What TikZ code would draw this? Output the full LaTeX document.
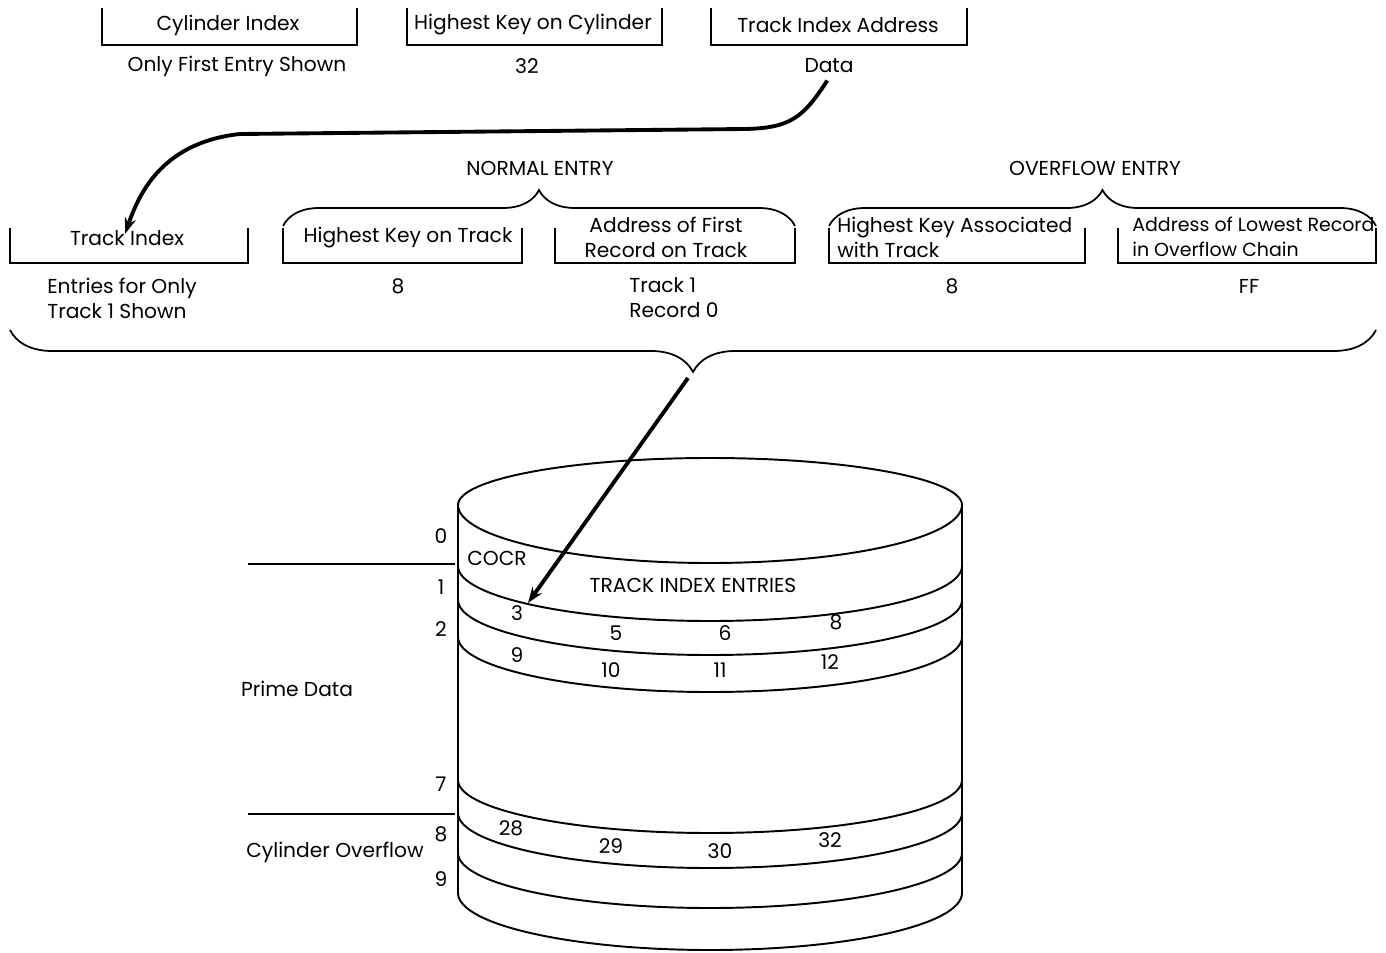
\documentclass[tikz,border=0pt]{standalone}
\usepackage{fontspec}
\setmainfont{Poppins}
\usetikzlibrary{arrows.meta, positioning, calc, decorations.pathreplacing}

\tikzset{
  lbl/.style={font=\fontsize{11.5}{14.2}\selectfont, inner sep=0pt},
  fieldline/.style={line width=1pt},
  pointer/.style={line width=2.2pt, -{Stealth[length=9pt, width=6.5pt]}},
  curly/.style={line width=1pt, decorate, decoration={brace, amplitude=#1}},
  disk/.style={line width=1.1pt},
  band/.style={line width=1.6pt},
}

\begin{document}
\begin{tikzpicture}[x=0.02cm, y=-0.02cm]
\useasboundingbox (0,0) rectangle (1386,953);

% cylinder index entry
\node[lbl] (cylidx) at (228,25) {Cylinder Index};
\node[lbl] (hikeycyl) at (533,25) {Highest Key on Cylinder};
\node[lbl] (trkaddr) at (838,25) {Track Index Address};
\node[lbl] (firstonly) at (237,66) {Only First Entry Shown};
\node[lbl] (cylkey) at (527,66) {32};
\node[lbl] (data) at (829,66) {Data};

% track index entry
\node[lbl] (normal) at (540,168) {NORMAL ENTRY};
\node[lbl] (overflow) at (1095,168) {OVERFLOW ENTRY};
\node[lbl] (trkidx) at (127,238) {Track Index};
\node[lbl] (hikeytrk) at (408,238) {Highest Key on Track};
\node[lbl, align=center] (firstrec) at (666,237) {Address of First\\Record on Track};
\node[lbl, align=left, anchor=west] (hikeyovf) at (837,237) {Highest Key Associated\\with Track};
\node[lbl, align=left, anchor=west, font=\fontsize{10.8}{14.2}\selectfont] (lowrec) at (1132,237)
  {Address of Lowest Record\\in Overflow Chain};

\node[lbl, align=left, anchor=west] (trkonly) at (47,298) {Entries for Only\\Track 1 Shown};
\node[lbl] (trkkey) at (398,286) {8};
\node[lbl, align=left, anchor=west] (trkrec) at (629,298) {Track 1\\Record 0};
\node[lbl] (ovfkey) at (952,286) {8};
\node[lbl] (ovfaddr) at (1249,286) {FF};

% open boxes under the field names
\foreach \xa/\xb/\ya/\yb in {102/357/8/45, 407/662/8/45, 711/967/8/45,
    10/248/228/263, 283/522/228/263, 555/795/228/263, 829/1085/228/263, 1118/1376/228/263}
  \draw[fieldline] (\xa,\ya) |- (\xb,\yb) -- (\xb,\ya);

% braces
\draw[curly=0.72cm] (283,226) -- (795,226);
\draw[curly=0.72cm] (829,226) -- (1376,226);
\draw[curly=0.84cm] (1376,330) -- (10,330);

% the disk cylinder
\draw[disk] (458,505) arc[start angle=180, end angle=360, x radius=252, y radius=47]
  arc[start angle=0, end angle=180, x radius=252, y radius=58];
\foreach \s/\d in {566/55, 600/55, 637/55, 780/53, 813/55, 853/55, 893/57}
  \draw[disk] (458,\s) arc[start angle=180, end angle=0, x radius=252, y radius=\d];
\draw[disk] (458,505) -- (458,893);
\draw[disk] (962,505) -- (962,893);

\node[lbl] (cocr) at (497,558) {COCR};
\node[lbl] (entries) at (693,585) {TRACK INDEX ENTRIES};
\foreach \n/\x/\y in {3/517/613, 5/616/633, 6/725/633, 8/836/622, 9/517/655,
    10/611/670, 11/720/670, 12/830/662, 28/511/828, 29/611/846, 30/720/851, 32/830/840}
  \node[lbl] (key\n) at (\x,\y) {\n};

% track numbers
\foreach \n/\y in {0/536, 1/587, 2/629, 7/784, 8/834, 9/879}
  \node[lbl] (trk\n) at (441,\y) {\n};

\draw[band] (248,564) -- (455,564);
\draw[band] (248,814) -- (455,814);
\node[lbl] (prime) at (297,689) {Prime Data};
\node[lbl] (cylovf) at (335,852) {Cylinder Overflow};

% pointers
\coordinate (brtip) at (688,378);
\coordinate (ent) at (528,603);
\draw[pointer] ([xshift=-1pt, yshift=-4pt]data.south) .. controls (803,118) and (790,128) .. (745,129)
  -- (240,134) .. controls (165,142) and (140,190) .. ([xshift=-1pt, yshift=-2pt]trkidx.north);
\draw[pointer] (brtip) -- (ent);
\end{tikzpicture}
\end{document}
